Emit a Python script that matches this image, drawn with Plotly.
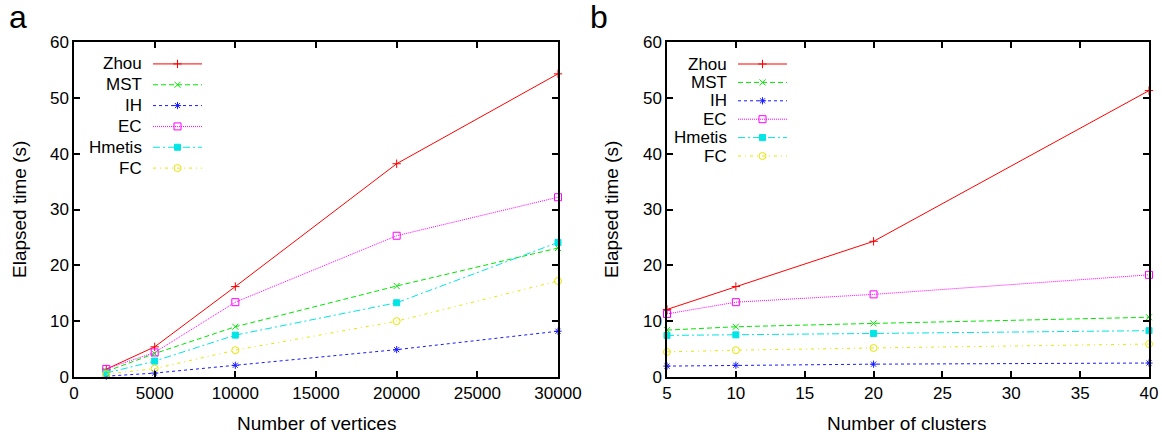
import plotly.graph_objects as go

W, H = 1162, 438

# ---- data ----
series = ["Zhou", "MST", "IH", "EC", "Hmetis", "FC"]
vertices = [2000, 5000, 10000, 20000, 30000]
time_vs_vertices = {
    "Zhou":   [1.4, 5.4, 16.2, 38.2, 54.3],
    "MST":    [1.0, 4.2, 9.0, 16.3, 23.1],
    "IH":     [0.15, 0.7, 2.1, 4.9, 8.2],
    "EC":     [1.45, 4.4, 13.4, 25.3, 32.2],
    "Hmetis": [0.7, 2.85, 7.5, 13.3, 24.1],
    "FC":     [0.5, 1.5, 4.8, 10.0, 17.2],
}
clusters = [5, 10, 20, 40]
time_vs_clusters = {
    "Zhou":   [12.1, 16.2, 24.3, 51.3],
    "MST":    [8.4, 9.0, 9.6, 10.7],
    "IH":     [1.95, 2.1, 2.3, 2.5],
    "EC":     [11.3, 13.4, 14.8, 18.3],
    "Hmetis": [7.45, 7.55, 7.8, 8.3],
    "FC":     [4.5, 4.8, 5.2, 5.9],
}
xticks_a = [0, 5000, 10000, 15000, 20000, 25000, 30000]
xticks_b = [5, 10, 15, 20, 25, 30, 35, 40]
yticks = [0, 10, 20, 30, 40, 50, 60]

# ---- styles ----
colors = {"Zhou": "#ff0000", "MST": "#00e600", "IH": "#1a1aff",
          "EC": "#ff00ff", "Hmetis": "#00e5e5", "FC": "#e6e600"}
dashes = {"Zhou": "solid", "MST": "5px,3px", "IH": "3px,3px",
          "EC": "1px,1px", "Hmetis": "7px,3px,2px,3px", "FC": "3px,4px,1px,4px"}
symbols = {"Zhou": "cross-thin-open", "MST": "x-thin-open", "IH": "asterisk-open",
           "EC": "square-open", "Hmetis": "square", "FC": "circle-open"}
msize = {"Zhou": 6, "MST": 6, "IH": 6, "EC": 7, "Hmetis": 6, "FC": 7}

FONT = "Liberation Sans, Arial, sans-serif"

def px_x(p):
    return p / W

def px_y(p):
    return 1 - p / H

fig = go.Figure()

def add_series(xs, data, xa, ya):
    for s in series:
        fig.add_trace(go.Scatter(
            x=xs, y=data[s], mode="lines+markers", xaxis=xa, yaxis=ya,
            showlegend=False, cliponaxis=False,
            line=dict(color=colors[s], width=1, dash=dashes[s]),
            marker=dict(symbol=symbols[s], size=msize[s], color=colors[s],
                        line=dict(color=colors[s], width=1)),
        ))

add_series(vertices, time_vs_vertices, "x", "y")
add_series(clusters, time_vs_clusters, "x2", "y2")

# legend samples on auxiliary axes (gnuplot-style: text then sample)
def add_legend(xa, ya):
    for i, s in enumerate(series):
        fig.add_trace(go.Scatter(x=[0, 1], y=[i, i], mode="lines", xaxis=xa, yaxis=ya,
                                 showlegend=False, hoverinfo="skip",
                                 line=dict(color=colors[s], width=1, dash=dashes[s])))
        fig.add_trace(go.Scatter(x=[0.5], y=[i], mode="markers", xaxis=xa, yaxis=ya,
                                 showlegend=False, hoverinfo="skip",
                                 marker=dict(symbol=symbols[s], size=msize[s], color=colors[s],
                                             line=dict(color=colors[s], width=1))))
        fig.add_annotation(x=0, y=i, xref=xa, yref=ya, text=s, showarrow=False,
                           xanchor="right", yanchor="middle", xshift=-9,
                           font=dict(family=FONT, size=17, color="black"))

add_legend("x3", "y3")
add_legend("x4", "y4")

ax_common = dict(showline=True, linecolor="black", linewidth=1.5, mirror="ticks",
                 ticks="inside", ticklen=6, tickwidth=1.5, tickcolor="black",
                 showgrid=False, zeroline=False, tickformat="d", automargin=False,
                 tickfont=dict(family=FONT, size=17, color="black"))
hidden = dict(visible=False, automargin=False, range=[0, 1])

ydom = [px_y(377), px_y(42)]
fig.update_layout(
    width=W, height=H, margin=dict(l=0, r=0, t=0, b=0),
    paper_bgcolor="white", plot_bgcolor="white",
    xaxis=dict(domain=[px_x(74), px_x(558)], range=[0, 30000], tickvals=xticks_a,
               anchor="y", **ax_common),
    yaxis=dict(domain=ydom, range=[0, 60], tickvals=yticks, anchor="x", **ax_common),
    xaxis2=dict(domain=[px_x(667), px_x(1149)], range=[5, 40], tickvals=xticks_b,
                anchor="y2", **ax_common),
    yaxis2=dict(domain=ydom, range=[0, 60], tickvals=yticks, anchor="x2", **ax_common),
    xaxis3=dict(domain=[px_x(153), px_x(202)], anchor="y3", **hidden),
    yaxis3=dict(domain=[px_y(178.5), px_y(53.5)], visible=False, automargin=False,
                range=[5.5, -0.5], anchor="x3"),
    xaxis4=dict(domain=[px_x(738), px_x(787)], anchor="y4", **hidden),
    yaxis4=dict(domain=[px_y(165.2), px_y(54.8)], visible=False, automargin=False,
                range=[5.5, -0.5], anchor="x4"),
)

def ann(text, x, y, size, angle=0):
    fig.add_annotation(text=text, x=px_x(x), y=px_y(y), xref="paper", yref="paper",
                       showarrow=False, xanchor="center", yanchor="middle", textangle=angle,
                       font=dict(family=FONT, size=size, color="black"))

ann("a", 18, 17, 32)
ann("b", 599, 17, 32)
ann("Number of vertices", 316, 423, 19)
ann("Number of clusters", 906, 423, 19)
ann("Elapsed time (s)", 20, 210, 19, -90)
ann("Elapsed time (s)", 612, 210, 19, -90)

fig.write_html("out.html", config={"displayModeBar": False},
               post_script="document.body.style.margin='0';document.body.style.overflow='hidden';")
